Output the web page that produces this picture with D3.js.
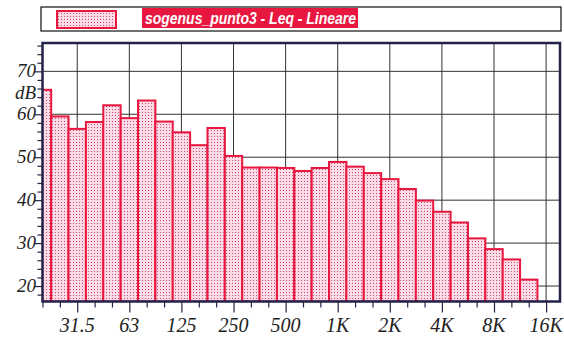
<!DOCTYPE html>
<html>
<head>
<meta charset="utf-8">
<script src="https://cdn.jsdelivr.net/npm/d3@7"></script>
<style>
  html, body { margin: 0; padding: 0; background: #fff; }
  svg { display: block; }
</style>
</head>
<body>
<svg id="chart" width="564" height="340"></svg>
<script>
// Third-octave band centre frequencies (Hz), 20 Hz .. 12.5 kHz
const bands = [20, 25, 31.5, 40, 50, 63, 80, 100, 125, 160, 200, 250, 315, 400, 500,
               630, 800, 1000, 1250, 1600, 2000, 2500, 3150, 4000, 5000, 6300, 8000, 10000, 12500];
// Leq per band (dB, linear weighting)
const leq = [65.7, 59.5, 56.6, 58.2, 62.1, 59.1, 63.2, 58.3, 55.8, 52.8, 56.8, 50.3, 47.6, 47.6, 47.5,
             46.8, 47.5, 48.9, 47.8, 46.3, 44.9, 42.6, 39.9, 37.3, 34.8, 31.1, 28.6, 26.2, 21.5];
// Octave tick labels and their band indices (base-ten exponent *10)
const octaveLabels = ["31.5", "63", "125", "250", "500", "1K", "2K", "4K", "8K", "16K"];
const octaveExp = [15, 18, 21, 24, 27, 30, 33, 36, 39, 42];
const yTicks = [20, 30, 40, 50, 60, 70];
const seriesName = "sogenus_punto3 - Leq - Lineare";

const svg = d3.select("#chart");
const red = "#e8173f";
const frameColor = "#23234a";

const plot = { left: 42.5, right: 560, top: 43, bottom: 301.5 };

// Exact band centres are 10^(n/10); nominal labels are only names
const exactFreq = f => Math.pow(10, Math.round(10 * Math.log10(f)) / 10);

const x = d3.scaleLog().domain([Math.pow(10, 1.3), Math.pow(10, 4.28)]).range([plot.left, plot.right]);
const y = d3.scaleLinear().domain([16.4, 76.6]).range([plot.bottom, plot.top]);

// dotted pink fill
const defs = svg.append("defs");
const pat = defs.append("pattern")
  .attr("id", "dots").attr("patternUnits", "userSpaceOnUse")
  .attr("width", 3).attr("height", 3);
pat.append("rect").attr("width", 3).attr("height", 3).attr("fill", "#fadbe6");
pat.append("rect").attr("x", 1).attr("y", 1).attr("width", 1).attr("height", 1).attr("fill", "#c8487a");

defs.append("clipPath").attr("id", "plotClip")
  .append("rect")
  .attr("x", plot.left).attr("y", plot.top)
  .attr("width", plot.right - plot.left).attr("height", plot.bottom - plot.top);

// legend
svg.append("rect")
  .attr("x", 41).attr("y", 7).attr("width", 520).attr("height", 24)
  .attr("fill", "#fff").attr("stroke", "#222").attr("stroke-width", 1.3);
svg.append("rect")
  .attr("x", 57).attr("y", 11).attr("width", 59).attr("height", 17)
  .attr("fill", "url(#dots)").attr("stroke", red).attr("stroke-width", 2);
svg.append("rect")
  .attr("x", 142).attr("y", 8).attr("width", 216).attr("height", 20)
  .attr("fill", red);
svg.append("text")
  .attr("x", 145).attr("y", 24)
  .attr("font-family", "Liberation Sans, Arial, sans-serif")
  .attr("font-size", 16).attr("font-weight", "bold").attr("font-style", "italic")
  .attr("fill", "#fff")
  .attr("textLength", 211).attr("lengthAdjust", "spacingAndGlyphs")
  .text(seriesName);

// grid
const grid = svg.append("g").attr("stroke", "#333").attr("stroke-width", 1);
grid.selectAll("line.h").data(yTicks).join("line")
  .attr("x1", plot.left).attr("x2", plot.right)
  .attr("y1", d => y(d)).attr("y2", d => y(d));
grid.selectAll("line.v").data(octaveExp).join("line")
  .attr("y1", plot.top).attr("y2", plot.bottom)
  .attr("x1", d => x(Math.pow(10, d / 10))).attr("x2", d => x(Math.pow(10, d / 10)));

// bars: one third-octave wide, centred on the band
const half = 0.05;
svg.append("g").attr("clip-path", "url(#plotClip)")
  .selectAll("rect").data(bands).join("rect")
  .attr("x", f => x(exactFreq(f) * Math.pow(10, -half)))
  .attr("width", f => x(exactFreq(f) * Math.pow(10, half)) - x(exactFreq(f) * Math.pow(10, -half)))
  .attr("y", (f, i) => y(leq[i]))
  .attr("height", (f, i) => plot.bottom - y(leq[i]))
  .attr("fill", "url(#dots)")
  .attr("stroke", red).attr("stroke-width", 2);

// y axis: ticks every 2 dB, labels every 10
const yAxis = d3.axisLeft(y)
  .tickValues(d3.range(18, 77, 2))
  .tickSize(5)
  .tickFormat("");
const gy = svg.append("g").attr("transform", `translate(${plot.left},0)`).call(yAxis);
gy.select(".domain").remove();
gy.selectAll(".tick line").attr("stroke", frameColor).attr("stroke-width", 1.2)
  .attr("x2", d => d % 10 === 0 ? -8 : -5);

const serif = "Liberation Serif, Times New Roman, serif";
svg.append("g").selectAll("text").data(yTicks).join("text")
  .attr("x", 36).attr("y", d => y(d) + 6)
  .attr("text-anchor", "end")
  .attr("font-family", serif).attr("font-style", "italic").attr("font-size", 19)
  .attr("fill", "#222")
  .text(d => d);
svg.append("text")
  .attr("x", 36).attr("y", y(65) + 6)
  .attr("text-anchor", "end")
  .attr("font-family", serif).attr("font-style", "italic").attr("font-size", 19)
  .attr("fill", "#222")
  .text("dB");

// x axis: third-octave minor ticks, octave major ticks
const allExp = d3.range(13, 43);
const xAxis = d3.axisBottom(x)
  .tickValues(allExp.map(e => Math.pow(10, e / 10)))
  .tickSize(6)
  .tickFormat("");
const gx = svg.append("g").attr("transform", `translate(0,${plot.bottom})`).call(xAxis);
gx.select(".domain").remove();
gx.selectAll(".tick line").attr("stroke", frameColor).attr("stroke-width", 1.2)
  .attr("y2", d => octaveExp.includes(Math.round(10 * Math.log10(d))) ? 11 : 6);

svg.append("g").selectAll("text").data(octaveExp).join("text")
  .attr("x", d => x(Math.pow(10, d / 10)))
  .attr("y", 332)
  .attr("text-anchor", "middle")
  .attr("font-family", serif).attr("font-style", "italic").attr("font-size", 20)
  .attr("fill", "#222")
  .text((d, i) => octaveLabels[i]);

// plot frame
svg.append("rect")
  .attr("x", plot.left).attr("y", plot.top)
  .attr("width", plot.right - plot.left).attr("height", plot.bottom - plot.top)
  .attr("fill", "none").attr("stroke", frameColor).attr("stroke-width", 2.5);
</script>
</body>
</html>
